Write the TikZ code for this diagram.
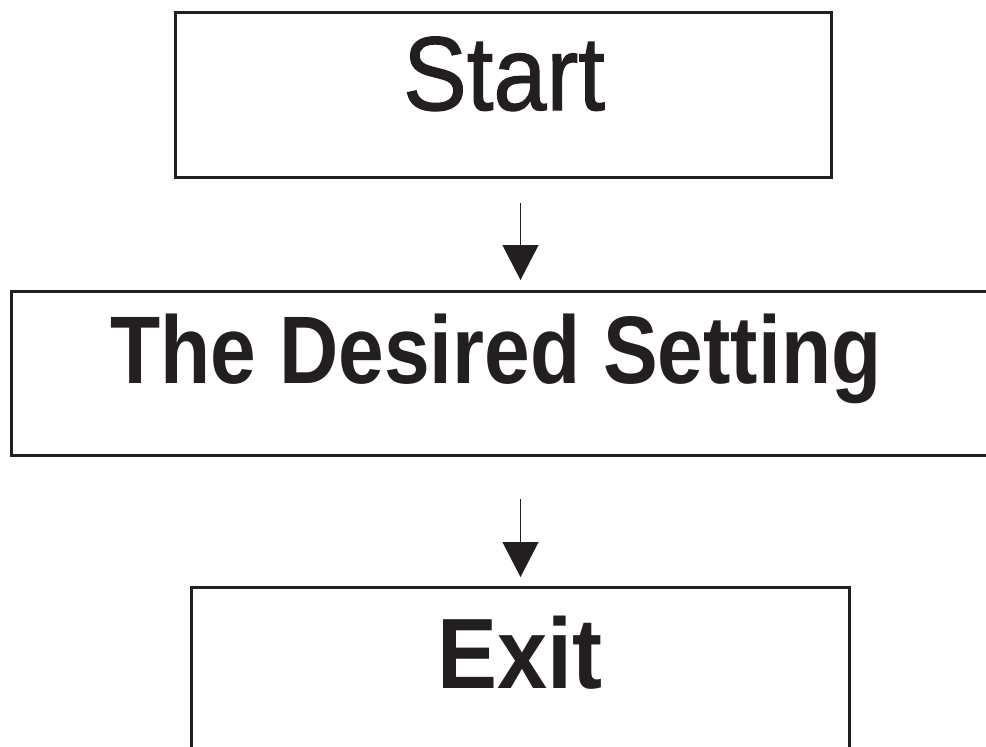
\documentclass[tikz,border=0pt]{standalone}
\usepackage{fontspec}
\setmainfont{Liberation Sans}
\newfontfamily\startfont[FakeBold=1.2]{Liberation Sans}
\usetikzlibrary{arrows.meta,calc}
\definecolor{ink}{HTML}{231F20}
\tikzset{
  box/.style={draw=ink, line width=3pt, inner sep=0pt, anchor=north west},
  lbl/.style={anchor=base, inner sep=0pt, text=ink},
  arr/.style={draw=ink, line width=1.2pt, -{Triangle[width=36pt,length=35pt]}}
}
\begin{document}
\begin{tikzpicture}[x=1pt,y=-1pt]
\useasboundingbox (0,0) rectangle (986,747);
\clip (0,0) rectangle (986,747);
\fill[white] (0,0) rectangle (986,747);
% boxes
\node[box, minimum width=656pt, minimum height=165pt] (start) at (174,11) {};
\node[box, minimum width=1000pt, minimum height=164pt] (desired) at (10,290) {};
\node[box, minimum width=658pt, minimum height=200pt] (exit) at (190,586) {};
% labels
\node[lbl, font=\startfont\fontsize{105}{110}\selectfont] (tstart) at (504,110) {\scalebox{0.91}[1]{Start}};
\node[lbl, font=\fontsize{96}{100}\selectfont\bfseries] (tdesired) at (496,383) {\scalebox{0.855}[1]{The Desired Setting}};
\node[lbl, font=\fontsize{100}{105}\selectfont\bfseries] (texit) at (520,688) {\scalebox{0.9}[1]{Exit}};
% connectors
\draw[arr, shorten <=24pt, shorten >=10pt] (start.south -| exit.north) -- (desired.north -| exit.north);
\draw[arr, shorten <=42pt, shorten >=9pt] (desired.south -| exit.north) -- (exit.north);
\end{tikzpicture}
\end{document}
